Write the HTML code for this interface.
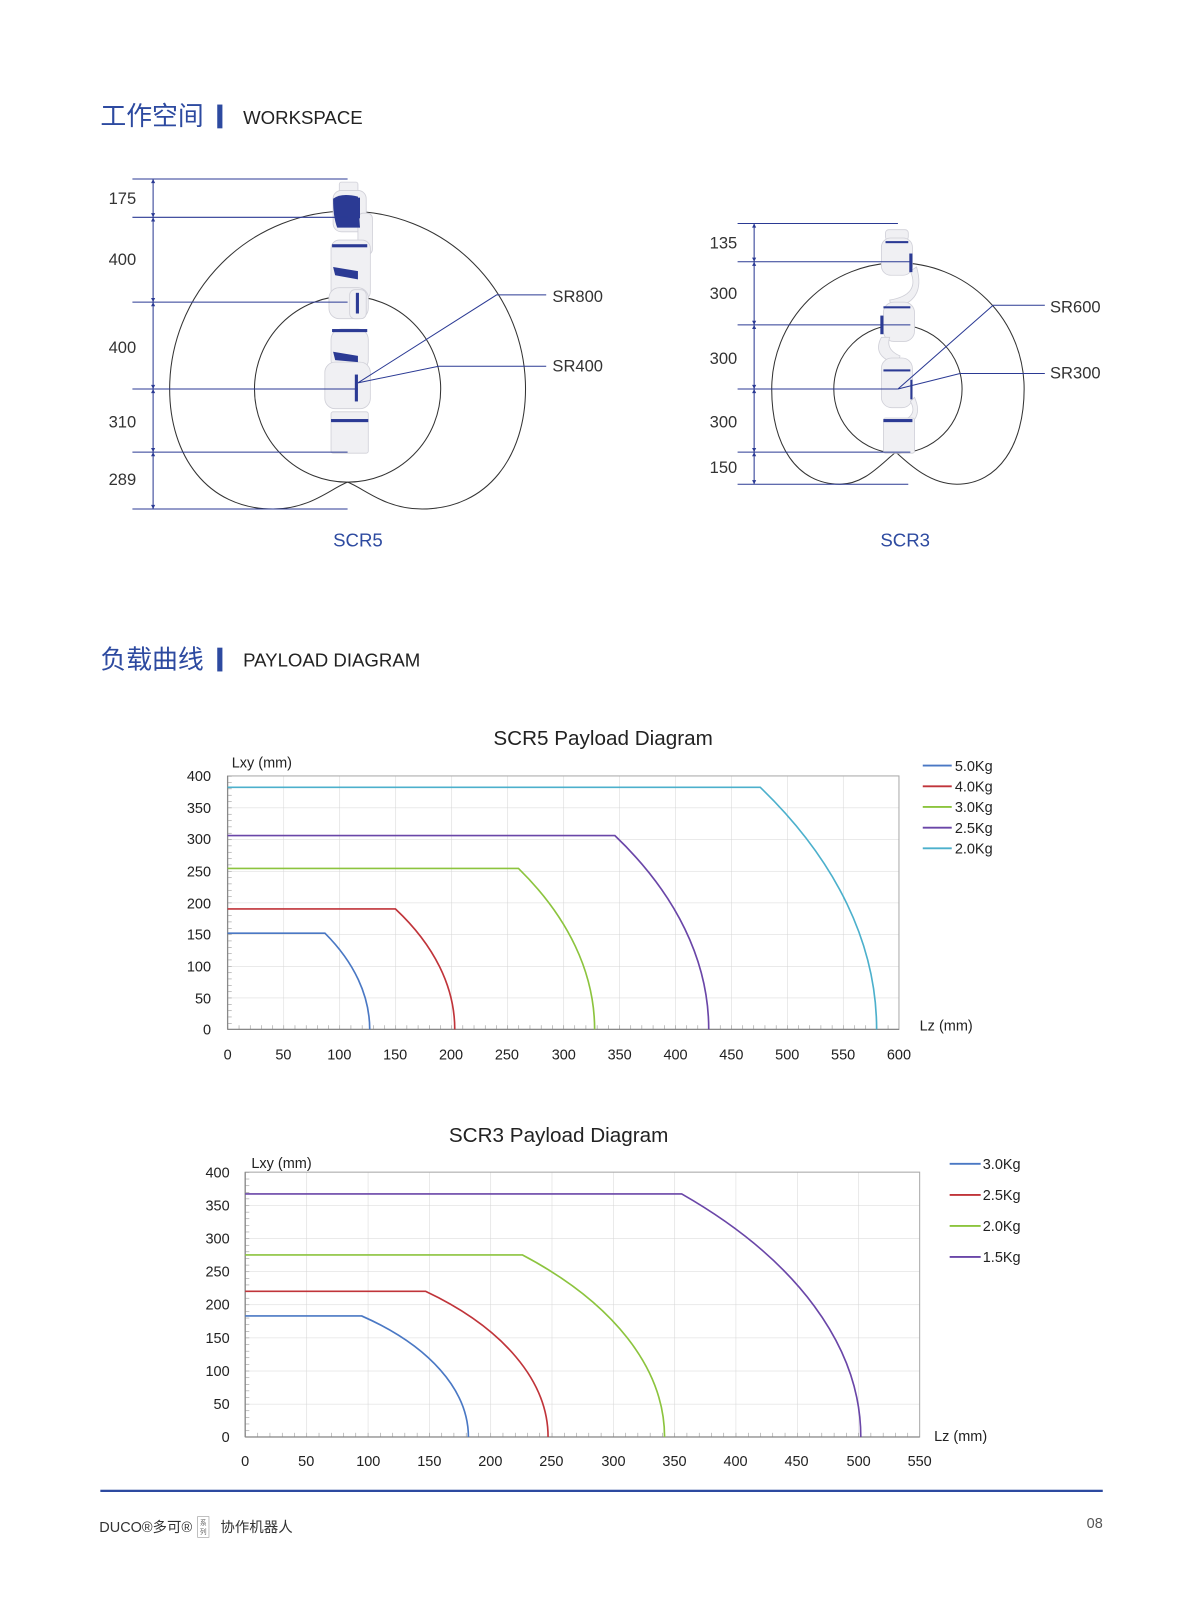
<!DOCTYPE html>
<html><head><meta charset="utf-8"><style>
html,body{margin:0;padding:0;background:#fff;width:1200px;height:1616px;overflow:hidden}
svg{display:block}
text{font-family:"Liberation Sans","Noto Sans CJK SC",sans-serif}
</style></head><body>
<svg width="1200" height="1616" viewBox="0 0 1160 1562" xmlns="http://www.w3.org/2000/svg">
<defs>
<pattern id="g5" patternUnits="userSpaceOnUse" x="220" y="750" width="54.08" height="30.625"><path d="M0,0V30.625M0,0H54.08" stroke="#d6d6d6" stroke-width="1" fill="none"/></pattern>
<pattern id="g3" patternUnits="userSpaceOnUse" x="237" y="1133" width="59.27" height="32"><path d="M0,0V32M0,0H59.27" stroke="#d6d6d6" stroke-width="1" fill="none"/></pattern>
<pattern id="tx5" patternUnits="userSpaceOnUse" x="220" y="0" width="10.817" height="10"><path d="M0,0V10" stroke="#888" stroke-width="1"/></pattern>
<pattern id="ty5" patternUnits="userSpaceOnUse" x="0" y="750" width="10" height="6.125"><path d="M0,0H10" stroke="#888" stroke-width="1"/></pattern>
<pattern id="tx3" patternUnits="userSpaceOnUse" x="237" y="0" width="11.855" height="10"><path d="M0,0V10" stroke="#888" stroke-width="1"/></pattern>
<pattern id="ty3" patternUnits="userSpaceOnUse" x="0" y="1133" width="10" height="6.4"><path d="M0,0H10" stroke="#888" stroke-width="1"/></pattern>
</defs>

<!-- Headers -->
<text x="97" y="121" font-size="25" fill="#2d4aa0">工作空间</text>
<rect x="210" y="101" width="5" height="23" fill="#2d4aa0"/>
<text x="235" y="120" font-size="18" fill="#222">WORKSPACE</text>
<text x="97" y="646" font-size="25" fill="#2d4aa0">负载曲线</text>
<rect x="210" y="626" width="5" height="23" fill="#2d4aa0"/>
<text x="235" y="644" font-size="18" fill="#222">PAYLOAD DIAGRAM</text>

<!-- SCR5 workspace -->
<g fill="none" stroke="#333" stroke-width="1">
<path d="M336,466 C320,472 300,492 264,492 C200,492 164,440 164,376 A172,172 0 0 1 508,376 C508,440 472,492 408,492 C372,492 352,472 336,466 Z"/>
<circle cx="336" cy="376" r="90"/>
</g>
<!-- robot SCR5 -->
<g stroke="#d0d0d8" stroke-width="0.8" fill="#f0f0f3">
<rect x="328" y="176" width="18" height="10" rx="2"/>
<rect x="322" y="184" width="32" height="40" rx="8"/>
<rect x="346" y="206" width="14" height="40" rx="5"/>
<rect x="320" y="232" width="38" height="58" rx="8"/>
<rect x="318" y="278" width="38" height="30" rx="10"/>
<rect x="338" y="280" width="16" height="28" rx="5"/>
<rect x="320" y="318" width="36" height="40" rx="10"/>
<rect x="314" y="350" width="44" height="45" rx="10"/>
<rect x="320" y="398" width="36" height="40" rx="2"/>
</g>
<g fill="#2b3a94">
<path d="M322,192 Q330,186 346,190 L348,220 L326,220 Q322,210 322,192 Z"/>
<rect x="321" y="236" width="34" height="3"/>
<path d="M322,258 L346,262 L346,270 L324,266 Z"/>
<rect x="344" y="283" width="3" height="20"/>
<rect x="321" y="318" width="34" height="3"/>
<path d="M322,340 L346,344 L346,350 L324,348 Z"/>
<rect x="343" y="362" width="3" height="26"/>
<rect x="320" y="405" width="36" height="3"/>
<rect x="346" y="191" width="2" height="20"/>
</g>
<g stroke="#2b3a94" stroke-width="1" fill="none">
<path d="M128,173H336M128,210H336M128,292H336M128,376H346M128,437H336M128,492H336"/>
<path d="M148,173V492"/>
<path d="M346,370L480,285H528M346,370L424,354H528"/>
</g>
<g fill="#2b3a94"><path d="M146,177l2,-4 2,4zM146,206l2,4 2,-4zM146,214l2,-4 2,4zM146,288l2,4 2,-4zM146,296l2,-4 2,4zM146,372l2,4 2,-4zM146,380l2,-4 2,4zM146,433l2,4 2,-4zM146,441l2,-4 2,4zM146,488l2,4 2,-4z"/></g>
<g font-size="16" fill="#333">
<text x="105" y="197">175</text><text x="105" y="256">400</text><text x="105" y="341">400</text><text x="105" y="413">310</text><text x="105" y="469">289</text>
<text x="534" y="292">SR800</text><text x="534" y="359">SR400</text>
</g>
<text x="346" y="528" font-size="18" fill="#2d4aa0" text-anchor="middle">SCR5</text>

<!-- SCR3 workspace -->
<g fill="none" stroke="#333" stroke-width="1">
<path d="M866,437 C850,450 835,468 812,468 C770,468 746,430 746,376 A122,122 0 0 1 990,376 C990,430 965,468 925,468 C900,468 880,450 866,437 Z"/>
<circle cx="868" cy="376" r="62"/>
</g>
<g stroke="#d0d0d8" stroke-width="0.8" fill="#f0f0f3">
<rect x="856" y="222" width="22" height="10" rx="3"/>
<rect x="852" y="230" width="30" height="36" rx="9"/>
<path d="M880,262 Q890,285 860,290 L862,298 Q896,292 886,258 Z"/>
<rect x="854" y="292" width="30" height="38" rx="10"/>
<path d="M852,326 Q842,345 868,352 L870,344 Q856,338 860,326 Z"/>
<rect x="852" y="346" width="30" height="48" rx="10"/>
<path d="M880,388 Q890,405 860,410 L860,418 Q896,410 884,384 Z"/>
<rect x="854" y="404" width="30" height="34" rx="2"/>
</g>
<g fill="#2b3a94">
<rect x="856" y="233" width="22" height="2"/><rect x="879" y="245" width="3" height="18"/>
<rect x="854" y="296" width="26" height="2"/><rect x="851" y="305" width="3" height="18"/>
<rect x="854" y="357" width="26" height="2"/><rect x="880" y="367" width="2" height="19"/>
<rect x="854" y="405" width="28" height="3"/>
</g>
<g stroke="#2b3a94" stroke-width="1" fill="none">
<path d="M713,216H868M713,253H880M713,314H880M713,376H868M713,437H880M713,468H878"/>
<path d="M729,216V468"/>
<path d="M868,376L960,295H1010M868,376L928,361H1010"/>
</g>
<g fill="#2b3a94"><path d="M727,220l2,-4 2,4zM727,249l2,4 2,-4zM727,257l2,-4 2,4zM727,310l2,4 2,-4zM727,318l2,-4 2,4zM727,372l2,4 2,-4zM727,380l2,-4 2,4zM727,433l2,4 2,-4zM727,441l2,-4 2,4zM727,464l2,4 2,-4z"/></g>
<g font-size="16" fill="#333">
<text x="686" y="240">135</text><text x="686" y="289">300</text><text x="686" y="352">300</text><text x="686" y="413">300</text><text x="686" y="457">150</text>
<text x="1015" y="302">SR600</text><text x="1015" y="366">SR300</text>
</g>
<text x="875" y="528" font-size="18" fill="#2d4aa0" text-anchor="middle">SCR3</text>

<!-- SCR5 chart -->
<text x="583" y="720" font-size="20" fill="#222" text-anchor="middle">SCR5 Payload Diagram</text>
<rect x="220" y="750" width="649" height="245" fill="url(#g5)" stroke="#aaa" stroke-width="1"/>
<rect x="220" y="991" width="649" height="4" fill="url(#tx5)"/>
<rect x="220" y="750" width="4" height="245" fill="url(#ty5)"/>
<path d="M220,995H869M220,750V995" stroke="#888" stroke-width="1.2"/>
<text x="224" y="742" font-size="14" fill="#222">Lxy (mm)</text>
<text x="889" y="996" font-size="14" fill="#222">Lz (mm)</text>
<g font-size="14" fill="#222" text-anchor="end">
<text x="204" y="1000">0</text><text x="204" y="970">50</text><text x="204" y="939">100</text><text x="204" y="908">150</text><text x="204" y="878">200</text><text x="204" y="847">250</text><text x="204" y="816">300</text><text x="204" y="786">350</text><text x="204" y="755">400</text>
</g>
<g font-size="14" fill="#222" text-anchor="middle">
<text x="220" y="1024">0</text><text x="274" y="1024">50</text><text x="328" y="1024">100</text><text x="382" y="1024">150</text><text x="436" y="1024">200</text><text x="490" y="1024">250</text><text x="545" y="1024">300</text><text x="599" y="1024">350</text><text x="653" y="1024">400</text><text x="707" y="1024">450</text><text x="761" y="1024">500</text><text x="815" y="1024">550</text><text x="869" y="1024">600</text>
</g>
<g fill="none" stroke-width="1.6">
<path d="M220,902H314.1A334,189.1 0 0 1 357.4,995" stroke="#4a78c4"/>
<path d="M220,878.6H382.3A397.1,224.8 0 0 1 439.6,995" stroke="#c0343a"/>
<path d="M220,839.4H501.2A549.9,311.4 0 0 1 574.8,995" stroke="#8cc43e"/>
<path d="M220,807.6H594.3A648.4,367.1 0 0 1 685.1,995" stroke="#6a46a8"/>
<path d="M220,761H734.9A815.2,461.6 0 0 1 847.4,995" stroke="#4cb0cc"/>
</g>
<g stroke-width="1.8">
<path d="M892,740H920" stroke="#4a78c4"/><path d="M892,760H920" stroke="#c0343a"/><path d="M892,780H920" stroke="#8cc43e"/><path d="M892,800H920" stroke="#6a46a8"/><path d="M892,820H920" stroke="#4cb0cc"/>
</g>
<g font-size="14" fill="#222">
<text x="923" y="745">5.0Kg</text><text x="923" y="765">4.0Kg</text><text x="923" y="785">3.0Kg</text><text x="923" y="805">2.5Kg</text><text x="923" y="825">2.0Kg</text>
</g>

<!-- SCR3 chart -->
<text x="540" y="1104" font-size="20" fill="#222" text-anchor="middle">SCR3 Payload Diagram</text>
<rect x="237" y="1133" width="652" height="256" fill="url(#g3)" stroke="#aaa" stroke-width="1"/>
<rect x="237" y="1385" width="652" height="4" fill="url(#tx3)"/>
<rect x="237" y="1133" width="4" height="256" fill="url(#ty3)"/>
<path d="M237,1389H889M237,1133V1389" stroke="#888" stroke-width="1.2"/>
<text x="243" y="1129" font-size="14" fill="#222">Lxy (mm)</text>
<text x="903" y="1393" font-size="14" fill="#222">Lz (mm)</text>
<g font-size="14" fill="#222" text-anchor="end">
<text x="222" y="1394">0</text><text x="222" y="1362">50</text><text x="222" y="1330">100</text><text x="222" y="1298">150</text><text x="222" y="1266">200</text><text x="222" y="1234">250</text><text x="222" y="1202">300</text><text x="222" y="1170">350</text><text x="222" y="1138">400</text>
</g>
<g font-size="14" fill="#222" text-anchor="middle">
<text x="237" y="1417">0</text><text x="296" y="1417">50</text><text x="356" y="1417">100</text><text x="415" y="1417">150</text><text x="474" y="1417">200</text><text x="533" y="1417">250</text><text x="593" y="1417">300</text><text x="652" y="1417">350</text><text x="711" y="1417">400</text><text x="770" y="1417">450</text><text x="830" y="1417">500</text><text x="889" y="1417">550</text>
</g>
<g fill="none" stroke-width="1.6">
<path d="M237,1272H349.6A279.8,151 0 0 1 452.8,1389" stroke="#4a78c4"/>
<path d="M237,1248.2H411.3A346.2,186.9 0 0 1 529.8,1389" stroke="#c0343a"/>
<path d="M237,1213H504.9A455.2,245.8 0 0 1 642.4,1389" stroke="#8cc43e"/>
<path d="M237,1154.1H659A633.4,342 0 0 1 832.1,1389" stroke="#6a46a8"/>
</g>
<g stroke-width="1.8">
<path d="M918,1125H948" stroke="#4a78c4"/><path d="M918,1155H948" stroke="#c0343a"/><path d="M918,1185H948" stroke="#8cc43e"/><path d="M918,1215H948" stroke="#6a46a8"/>
</g>
<g font-size="14" fill="#222">
<text x="950" y="1130">3.0Kg</text><text x="950" y="1160">2.5Kg</text><text x="950" y="1190">2.0Kg</text><text x="950" y="1220">1.5Kg</text>
</g>

<!-- footer -->
<rect x="97" y="1440" width="969" height="2.2" fill="#2d4aa0"/>
<text x="96" y="1481" font-size="14" fill="#333">DUCO®多可®</text>
<rect x="191" y="1466" width="11" height="20" fill="none" stroke="#999" stroke-width="0.6"/>
<text x="196.5" y="1474" font-size="6.5" fill="#666" text-anchor="middle">系</text>
<text x="196.5" y="1483" font-size="6.5" fill="#666" text-anchor="middle">列</text>
<text x="213" y="1481" font-size="14" fill="#333">协作机器人</text>
<text x="1066" y="1477" font-size="14" fill="#555" text-anchor="end">08</text>
</svg>
</body></html>
